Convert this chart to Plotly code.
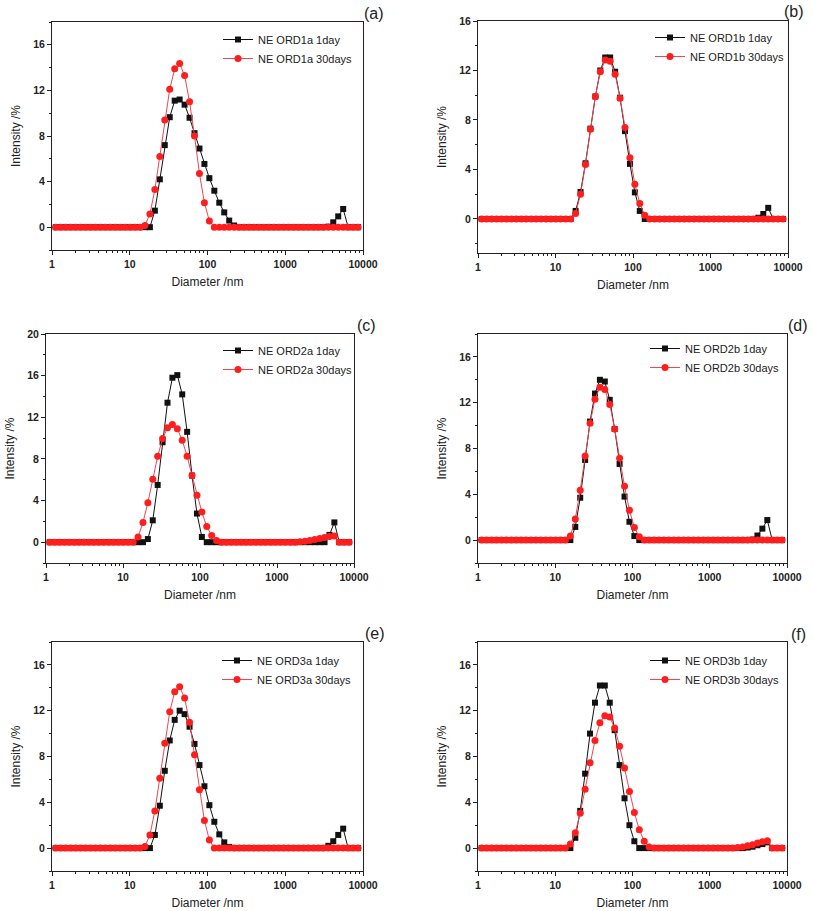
import plotly.graph_objects as go

# Size classes (nm), log-spaced DLS bins
diameter_nm = [0.9649, 1.117, 1.294, 1.499, 1.736, 2.01, 2.328, 2.696, 3.122, 3.615,
               4.187, 4.849, 5.615, 6.503, 7.531, 8.721, 10.1, 11.7, 13.54, 15.69,
               18.17, 21.04, 24.36, 28.21, 32.67, 37.84, 43.82, 50.75, 58.77, 68.06,
               78.82, 91.28, 105.7, 122.4, 141.8, 164.2, 190.1, 220.2, 255.0, 295.3,
               342.0, 396.1, 458.7, 531.2, 615.1, 712.4, 825.0, 955.4, 1106, 1281,
               1484, 1718, 1990, 2305, 2669, 3091, 3580, 4145, 4801, 5560,
               6439, 7456, 8635]

# Intensity (%) per size class
ord1a_1day = [0, 0, 0, 0, 0, 0, 0, 0, 0, 0, 0, 0, 0, 0, 0, 0, 0, 0, 0,
              0, 0, 1.45, 4.2, 7.2, 9.65, 11.1, 11.2, 10.75, 9.6, 8.25, 6.9, 5.55, 4.3, 3.2, 2.15, 1.3, 0.58, 0.15, 0,
              0, 0, 0, 0, 0, 0, 0, 0, 0, 0, 0, 0, 0, 0, 0, 0, 0,
              0.05, 0.43, 0.95, 1.6, 0, 0, 0]
ord1a_30days = [0, 0, 0, 0, 0, 0, 0, 0, 0, 0, 0, 0, 0, 0, 0, 0, 0, 0, 0,
                0.15, 1.15, 3.3, 6.2, 9.4, 12.1, 13.9, 14.35, 13.3, 11.0, 8.0, 4.7, 2.15, 0.55,
                0, 0, 0, 0, 0, 0, 0, 0, 0, 0, 0, 0, 0, 0, 0, 0, 0, 0, 0, 0, 0, 0, 0, 0, 0, 0, 0, 0, 0, 0]

ord1b_1day = [0, 0, 0, 0, 0, 0, 0, 0, 0, 0, 0, 0, 0, 0, 0, 0, 0, 0, 0,
              0, 0.65, 2.18, 4.5, 7.3, 9.9, 12.0, 13.05, 13.05, 11.9, 9.8, 7.1, 4.45, 2.15, 0.65, 0,
              0, 0, 0, 0, 0, 0, 0, 0, 0, 0, 0, 0, 0, 0, 0, 0, 0, 0, 0, 0, 0, 0,
              0.1, 0.4, 0.9, 0, 0, 0]
ord1b_30days = [0, 0, 0, 0, 0, 0, 0, 0, 0, 0, 0, 0, 0, 0, 0, 0, 0, 0, 0,
                0, 0.45, 2.0, 4.4, 7.25, 9.9, 11.9, 12.85, 12.75, 11.7, 9.75, 7.4, 4.95, 2.8, 1.25, 0.3, 0,
                0, 0, 0, 0, 0, 0, 0, 0, 0, 0, 0, 0, 0, 0, 0, 0, 0, 0, 0, 0, 0, 0, 0, 0, 0, 0, 0]

ord2a_1day = [0, 0, 0, 0, 0, 0, 0, 0, 0, 0, 0, 0, 0, 0, 0, 0, 0, 0, 0,
              0, 0, 0.3, 2.1, 5.5, 9.6, 13.4, 15.8, 16.05, 14.2, 10.6, 6.4, 2.75, 0.5, 0,
              0, 0, 0, 0, 0, 0, 0, 0, 0, 0, 0, 0, 0, 0, 0, 0, 0, 0, 0, 0, 0, 0, 0,
              0, 0.7, 1.9, 0, 0, 0]
ord2a_30days = [0, 0, 0, 0, 0, 0, 0, 0, 0, 0, 0, 0, 0, 0, 0, 0, 0, 0,
                0, 0.5, 1.9, 3.8, 6.05, 8.25, 9.95, 11.0, 11.3, 10.9, 9.8, 8.25, 6.4, 4.5, 2.9, 1.5, 0.65, 0.15, 0,
                0, 0, 0, 0, 0, 0, 0, 0, 0, 0, 0, 0, 0, 0, 0,
                0.05, 0.1, 0.15, 0.25, 0.35, 0.45, 0.55, 0.6, 0, 0, 0]

ord2b_1day = [0, 0, 0, 0, 0, 0, 0, 0, 0, 0, 0, 0, 0, 0, 0, 0, 0, 0, 0,
              0, 1.15, 3.7, 7.0, 10.35, 12.8, 14.0, 13.85, 12.25, 9.7, 6.65, 3.8, 1.6, 0.35, 0,
              0, 0, 0, 0, 0, 0, 0, 0, 0, 0, 0, 0, 0, 0, 0, 0, 0, 0, 0, 0, 0, 0,
              0.05, 0.4, 1.0, 1.75, 0, 0, 0]
ord2b_30days = [0, 0, 0, 0, 0, 0, 0, 0, 0, 0, 0, 0, 0, 0, 0, 0, 0, 0, 0,
                0.35, 1.85, 4.35, 7.35, 10.2, 12.3, 13.35, 13.15, 11.85, 9.7, 7.15, 4.7, 2.6, 1.1, 0.3, 0,
                0, 0, 0, 0, 0, 0, 0, 0, 0, 0, 0, 0, 0, 0, 0, 0, 0, 0, 0, 0, 0, 0, 0, 0, 0, 0, 0, 0]

ord3a_1day = [0, 0, 0, 0, 0, 0, 0, 0, 0, 0, 0, 0, 0, 0, 0, 0, 0, 0, 0,
              0, 0, 1.15, 3.7, 6.75, 9.4, 11.2, 12.0, 11.7, 10.6, 9.1, 7.25, 5.4, 3.75, 2.3, 1.2, 0.5, 0.1, 0,
              0, 0, 0, 0, 0, 0, 0, 0, 0, 0, 0, 0, 0, 0, 0, 0, 0, 0,
              0.2, 0.6, 1.15, 1.7, 0, 0, 0]
ord3a_30days = [0, 0, 0, 0, 0, 0, 0, 0, 0, 0, 0, 0, 0, 0, 0, 0, 0, 0, 0,
                0.15, 1.15, 3.25, 6.1, 9.15, 11.9, 13.65, 14.1, 13.1, 11.0, 8.15, 5.1, 2.4, 0.7, 0,
                0, 0, 0, 0, 0, 0, 0, 0, 0, 0, 0, 0, 0, 0, 0, 0, 0, 0, 0, 0, 0, 0, 0, 0, 0, 0, 0, 0, 0]

ord3b_1day = [0, 0, 0, 0, 0, 0, 0, 0, 0, 0, 0, 0, 0, 0, 0, 0, 0, 0, 0,
              0, 0.9, 3.25, 6.5, 10.0, 12.7, 14.2, 14.2, 12.7, 10.3, 7.25, 4.35, 2.0, 0.6, 0,
              0, 0, 0, 0, 0, 0, 0, 0, 0, 0, 0, 0, 0, 0, 0, 0, 0, 0, 0, 0, 0,
              0.05, 0.12, 0.25, 0.35, 0.5, 0, 0, 0]
ord3b_30days = [0, 0, 0, 0, 0, 0, 0, 0, 0, 0, 0, 0, 0, 0, 0, 0, 0, 0, 0,
                0.35, 1.35, 3.05, 5.15, 7.45, 9.4, 10.95, 11.55, 11.45, 10.5, 8.9, 7.0, 4.95, 3.1, 1.6, 0.6, 0.1, 0,
                0, 0, 0, 0, 0, 0, 0, 0, 0, 0, 0, 0, 0, 0, 0, 0,
                0.05, 0.1, 0.2, 0.3, 0.45, 0.55, 0.65, 0, 0, 0]

sample_names = ["ORD1a", "ORD1b", "ORD2a", "ORD2b", "ORD3a", "ORD3b"]
panel_labels = ["(a)", "(b)", "(c)", "(d)", "(e)", "(f)"]
series_1day = [ord1a_1day, ord1b_1day, ord2a_1day, ord2b_1day, ord3a_1day, ord3b_1day]
series_30days = [ord1a_30days, ord1b_30days, ord2a_30days, ord2b_30days, ord3a_30days, ord3b_30days]
y_ranges = [[-2, 18], [-2.75, 16], [-2, 20], [-2, 18], [-2, 18], [-2, 18]]
x_tick_vals = [1, 10, 100, 1000, 10000]
x_tick_text = ["1", "10", "100", "1000", "10000"]

for s in series_1day + series_30days:
    assert len(s) == len(diameter_nm), len(s)

W, H = 813, 911
# plot area in pixels: left, right, top, bottom
boxes = [(52, 363, 22, 250), (478, 788, 21, 253),
         (46, 354, 334, 563), (478, 787, 334, 563),
         (52, 363, 642, 871), (478, 787, 642, 871)]
# legend right edge x, top y (pixels)
legend_pos = [(358, 25), (790, 23), (358, 336), (785, 334), (357, 646), (785, 646)]
label_pos = [(374, 13), (794, 11), (366, 326), (798, 325), (375, 633), (798, 634)]

FONT = "Liberation Sans, Arial, sans-serif"
BLACK = "#111111"
RED_LINE = "rgb(240,70,80)"
RED_MARK = "rgb(255,30,30)"

fig = go.Figure()
layout = dict(width=W, height=H, margin=dict(l=0, r=0, t=0, b=0, autoexpand=False),
              paper_bgcolor="white", plot_bgcolor="white",
              font=dict(family=FONT, color="#222"), annotations=[])

for i in range(6):
    sx = "" if i == 0 else str(i + 1)
    lg = "legend" if i == 0 else f"legend{i + 1}"
    l, r, t, b = boxes[i]
    fig.add_trace(go.Scatter(
        x=diameter_nm, y=series_1day[i], mode="lines+markers",
        name=f"NE {sample_names[i]} 1day",
        line=dict(color=BLACK, width=1),
        marker=dict(symbol="square", size=6, color=BLACK),
        xaxis="x" + sx, yaxis="y" + sx, legend=lg, cliponaxis=False))
    fig.add_trace(go.Scatter(
        x=diameter_nm, y=series_30days[i], mode="lines+markers",
        name=f"NE {sample_names[i]} 30days",
        line=dict(color=RED_LINE, width=1),
        marker=dict(symbol="circle", size=7, color=RED_MARK),
        xaxis="x" + sx, yaxis="y" + sx, legend=lg, cliponaxis=False))

    layout["xaxis" + sx] = dict(
        type="log", range=[0, 4], domain=[l / W, r / W], anchor="y" + sx,
        automargin=False,
        tickvals=x_tick_vals, ticktext=x_tick_text,
        ticks="outside", ticklen=4, tickcolor="#222", tickwidth=1,
        minor=dict(ticks="outside", ticklen=2, tickcolor="#222",
                   tickvals=[m * d for d in [1, 10, 100, 1000] for m in range(2, 10)]),
        showline=True, linecolor="#222", linewidth=1, mirror=True,
        showgrid=False, zeroline=False,
        tickfont=dict(size=10.5, family=FONT, weight="bold", color="#222"),
        title=dict(text="Diameter /nm", font=dict(size=12, family=FONT, color="#222"), standoff=9))
    layout["yaxis" + sx] = dict(
        range=y_ranges[i], domain=[1 - b / H, 1 - t / H], anchor="x" + sx,
        automargin=False,
        tick0=0, dtick=4,
        ticks="outside", ticklen=4, tickcolor="#222", tickwidth=1,
        minor=dict(ticks="outside", ticklen=2, tickcolor="#222", dtick=2, tick0=0),
        showline=True, linecolor="#222", linewidth=1, mirror=True,
        showgrid=False, zeroline=False,
        tickfont=dict(size=10.5, family=FONT, weight="bold", color="#222"),
        title=dict(text="Intensity /%", font=dict(size=12, family=FONT, color="#222"), standoff=10))
    lx, ly = legend_pos[i]
    layout[lg] = dict(x=lx / W, y=1 - ly / H, xanchor="right", yanchor="top",
                      xref="paper", yref="paper", bgcolor="rgba(0,0,0,0)",
                      font=dict(size=11, family=FONT, color="#222"),
                      tracegroupgap=0, itemwidth=30)
    px, py = label_pos[i]
    layout["annotations"].append(dict(
        text=panel_labels[i], x=px / W, y=1 - py / H, xref="paper", yref="paper",
        xanchor="center", yanchor="middle", showarrow=False,
        font=dict(size=16, family=FONT, color="#222")))

fig.update_layout(**layout)
fig.write_html("out.html", config={"displayModeBar": False},
               post_script="document.documentElement.style.margin='0';"
                           "document.documentElement.style.overflow='hidden';"
                           "document.body.style.margin='0';"
                           "document.body.style.padding='0';"
                           "document.body.style.overflow='hidden';")
